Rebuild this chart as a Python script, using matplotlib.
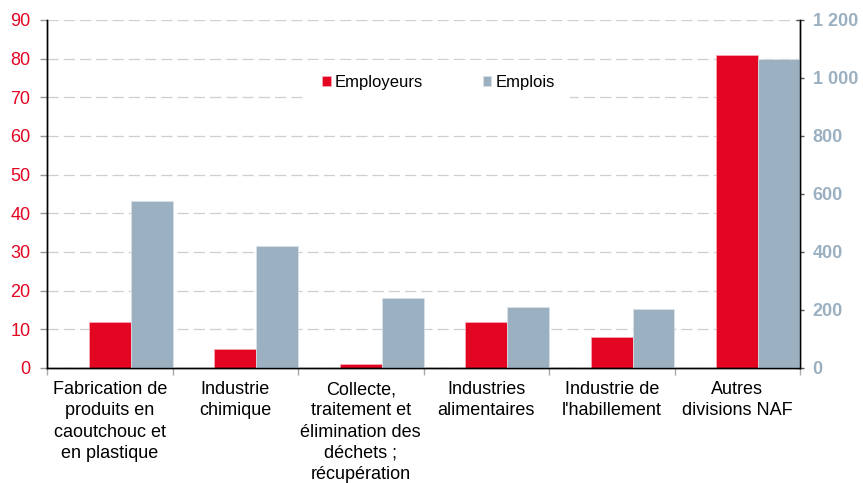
import matplotlib
matplotlib.use("Agg")
import matplotlib.pyplot as plt
import numpy as np

plt.rcParams["font.family"] = ["Liberation Sans", "DejaVu Sans"]

categories = [
    "Fabrication de\nproduits en\ncaoutchouc et\nen plastique",
    "Industrie\nchimique",
    "Collecte,\ntraitement et\nélimination des\ndéchets ;\nrécupération",
    "Industries\nalimentaires",
    "Industrie de\nl'habillement",
    "Autres\ndivisions NAF",
]
employeurs = [12, 5, 1, 12, 8, 81]
emplois = [577, 421, 241, 210, 204, 1066]

left_ticks = list(range(0, 91, 10))
right_ticks = [0, 200, 400, 600, 800, 1000, 1200]
right_labels = ["0", "200", "400", "600", "800", "1 000", "1 200"]

RED = "#e30522"
GREY = "#9bb0c1"

fig = plt.figure(figsize=(8.63, 4.83), dpi=100)
ax1 = fig.add_axes([47 / 863, 1 - 368 / 483, 753 / 863, 348 / 483])
ax2 = ax1.twinx()

x = np.arange(len(categories))
w = 1 / 3
b1 = ax1.bar(x, employeurs, width=w, color=RED, edgecolor="#f5b0b8",
             linewidth=0.5, label="Employeurs", zorder=2)
b2 = ax2.bar(x + w, emplois, width=w, color=GREY, edgecolor="#dbe3ea",
             linewidth=0.5, label="Emplois", zorder=2)

ax1.set_xlim(-0.5, len(categories) - 0.5)
ax1.set_ylim(0, 90)
ax2.set_ylim(0, 1200)

ax1.set_axisbelow(True)
ax1.set_yticks(left_ticks)
ax1.grid(axis="y", color="#cfcfcf", linestyle=(0, (9, 4)), linewidth=0.9)
ax1.tick_params(axis="y", colors="#999999", labelcolor=RED, labelsize=13,
                length=5, width=1, pad=7)

ax2.set_yticks(right_ticks)
ax2.set_yticklabels(right_labels)
ax2.tick_params(axis="y", colors="#555555", labelcolor=GREY, labelsize=13,
                length=6, width=1, pad=6, direction="inout")
for lab in ax2.get_yticklabels():
    lab.set_fontweight("bold")

# category boundaries as major ticks, labels on minor ticks
ax1.set_xticks(np.arange(-0.5, len(categories)), labels=[""] * (len(categories) + 1))
ax1.set_xticks(x, labels=categories, minor=True)
ax1.tick_params(axis="x", which="major", colors="#aaaaaa", length=5, width=1)
ax1.tick_params(axis="x", which="minor", length=0, labelsize=13, pad=9.5)
for lab in ax1.get_xticklabels(minor=True):
    lab.set_linespacing(1.32)

for ax in (ax1, ax2):
    ax.spines["top"].set_visible(False)
    for s in ("left", "right", "bottom"):
        ax.spines[s].set_color("black")
        ax.spines[s].set_linewidth(1)

leg = ax2.legend([b1, b2], ["Employeurs", "Emplois"], loc="center",
                 bbox_to_anchor=(0.52, 0.82), ncol=2, frameon=True,
                 fancybox=False, edgecolor="none", facecolor="white",
                 framealpha=1, fontsize=12, handlelength=0.5, handleheight=0.5,
                 handletextpad=0.25, columnspacing=3.6, borderpad=0.9)
leg.set_zorder(5)

fig.savefig("out.png", dpi=100)
